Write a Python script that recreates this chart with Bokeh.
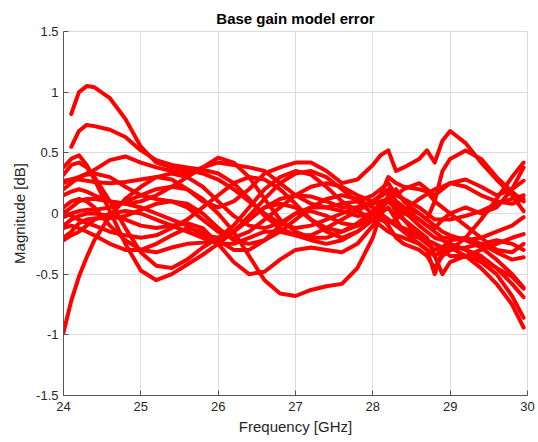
import numpy as np
from bokeh.plotting import figure
from bokeh.embed import file_html
from bokeh.resources import INLINE
from bokeh.models import FixedTicker, Range1d

freq = [24.0, 24.1, 24.2, 24.3, 24.4, 24.6, 24.8, 25.0, 25.2, 25.4, 25.6, 25.8,
        26.0, 26.2, 26.4, 26.6, 26.8, 27.0, 27.2, 27.4, 27.6, 27.8, 28.0, 28.1,
        28.2, 28.3, 28.4, 28.6, 28.7, 28.8, 28.9, 29.0, 29.2, 29.4, 29.6, 29.8, 29.95]

nan = float("nan")
err_01 = [nan, 0.82, 1.00, 1.05, 1.04, 0.95, 0.78, 0.55, 0.42, 0.38, 0.36, 0.33, 0.28, 0.20, 0.10, 0.00, -0.08, -0.12, -0.10, -0.05, 0.00, 0.05, 0.08, 0.10, 0.12, 0.08, 0.02, -0.10, -0.15, -0.20, -0.22, -0.25, -0.30, -0.35, -0.45, -0.58, -0.69]
err_02 = [nan, 0.55, 0.68, 0.73, 0.72, 0.69, 0.63, 0.52, 0.44, 0.40, 0.38, 0.36, 0.33, 0.25, 0.12, -0.02, -0.12, -0.18, -0.18, -0.12, -0.05, 0.02, 0.10, 0.14, 0.18, 0.15, 0.12, 0.05, 0.00, -0.05, -0.05, -0.05, -0.02, 0.02, 0.08, 0.12, 0.15]
err_03 = [-0.98, -0.72, -0.52, -0.36, -0.22, -0.02, 0.12, 0.22, 0.30, 0.33, 0.30, 0.22, 0.10, -0.02, -0.10, -0.12, -0.08, 0.00, 0.05, 0.05, 0.02, -0.02, 0.00, 0.05, 0.10, 0.05, -0.05, -0.20, -0.25, -0.30, -0.28, -0.22, -0.20, -0.25, -0.32, -0.38, -0.36]
err_04 = [0.38, 0.45, 0.48, 0.40, 0.28, 0.02, -0.25, -0.47, -0.55, -0.50, -0.42, -0.34, -0.25, -0.15, -0.02, 0.12, 0.25, 0.33, 0.35, 0.30, 0.20, 0.10, 0.00, -0.05, -0.08, -0.05, 0.02, 0.12, 0.16, 0.20, 0.22, 0.25, 0.22, 0.15, 0.10, 0.08, 0.12]
err_05 = [0.32, 0.40, 0.42, 0.38, 0.30, 0.10, -0.12, -0.32, -0.43, -0.45, -0.38, -0.28, -0.20, -0.10, 0.05, 0.20, 0.30, 0.35, 0.32, 0.22, 0.10, 0.02, -0.05, -0.10, -0.15, -0.18, -0.20, -0.25, -0.30, -0.35, -0.30, -0.28, -0.35, -0.45, -0.58, -0.75, -0.94]
err_06 = [0.25, 0.28, 0.30, 0.33, 0.36, 0.44, 0.47, 0.42, 0.38, 0.35, 0.33, 0.38, 0.46, 0.42, 0.30, 0.12, -0.05, -0.15, -0.20, -0.20, -0.15, -0.08, 0.02, 0.08, 0.12, 0.10, 0.05, -0.05, -0.10, -0.15, -0.20, -0.20, -0.22, -0.28, -0.38, -0.50, -0.61]
err_07 = [0.27, 0.28, 0.28, 0.27, 0.26, 0.25, 0.26, 0.28, 0.30, 0.28, 0.20, 0.10, 0.05, 0.10, 0.20, 0.33, 0.38, 0.42, 0.42, 0.35, 0.25, 0.28, 0.40, 0.48, 0.52, 0.35, 0.38, 0.45, 0.52, 0.42, 0.60, 0.68, 0.58, 0.42, 0.28, 0.15, 0.02]
err_08 = [0.05, 0.10, 0.12, 0.10, 0.05, -0.10, -0.22, -0.30, -0.32, -0.28, -0.25, -0.24, -0.22, -0.15, -0.05, 0.05, 0.12, 0.15, 0.14, 0.10, 0.05, 0.05, 0.10, 0.15, 0.20, 0.10, 0.05, 0.00, -0.05, 0.10, 0.35, 0.45, 0.52, 0.45, 0.30, 0.18, 0.10]
err_09 = [-0.03, 0.00, 0.02, 0.03, 0.03, 0.05, 0.10, 0.15, 0.20, 0.22, 0.20, 0.12, 0.00, -0.15, -0.35, -0.55, -0.66, -0.68, -0.63, -0.60, -0.58, -0.45, -0.20, 0.00, 0.15, 0.00, -0.05, -0.15, -0.20, -0.35, -0.50, -0.40, -0.35, -0.40, -0.50, -0.68, -0.86]
err_10 = [-0.20, -0.15, -0.08, -0.05, -0.04, -0.04, -0.02, 0.03, 0.08, 0.10, 0.08, 0.00, -0.12, -0.22, -0.25, -0.22, -0.15, -0.05, 0.05, 0.12, 0.15, 0.12, 0.05, 0.00, -0.05, -0.10, -0.15, -0.20, -0.22, -0.25, -0.28, -0.30, -0.20, -0.05, 0.12, 0.30, 0.42]
err_11 = [0.02, -0.02, -0.05, -0.08, -0.10, -0.15, -0.18, -0.20, -0.18, -0.12, -0.05, 0.05, 0.15, 0.25, 0.30, 0.28, 0.20, 0.08, -0.05, -0.12, -0.15, -0.10, 0.00, 0.05, 0.10, 0.05, 0.00, -0.05, -0.10, -0.12, -0.05, 0.00, 0.05, 0.00, 0.05, 0.20, 0.38]
err_12 = [0.15, 0.18, 0.20, 0.18, 0.15, 0.10, 0.08, 0.10, 0.15, 0.22, 0.30, 0.38, 0.42, 0.40, 0.38, 0.35, 0.25, 0.15, 0.08, 0.05, 0.08, 0.10, 0.15, 0.20, 0.25, 0.15, 0.20, 0.25, 0.20, 0.15, 0.20, 0.25, 0.28, 0.22, 0.15, 0.20, 0.27]
err_13 = [-0.10, -0.05, -0.02, 0.00, 0.00, -0.02, -0.05, -0.10, -0.12, -0.10, -0.08, -0.12, -0.25, -0.40, -0.50, -0.48, -0.38, -0.30, -0.28, -0.30, -0.32, -0.25, -0.10, 0.00, 0.05, -0.05, -0.15, -0.25, -0.30, -0.50, -0.30, -0.25, -0.30, -0.38, -0.45, -0.52, -0.62]
err_14 = [-0.12, -0.10, -0.12, -0.15, -0.18, -0.25, -0.30, -0.30, -0.25, -0.18, -0.12, -0.15, -0.22, -0.30, -0.30, -0.22, -0.10, 0.00, 0.02, -0.02, -0.08, -0.10, -0.05, 0.05, 0.12, 0.20, 0.10, 0.00, -0.05, -0.10, -0.15, -0.18, -0.22, -0.20, -0.15, -0.10, -0.03]
err_15 = [0.00, 0.05, 0.10, 0.12, 0.12, 0.10, 0.08, 0.05, 0.00, -0.05, -0.10, -0.18, -0.20, -0.15, -0.05, 0.05, 0.08, 0.05, -0.05, -0.15, -0.20, -0.15, -0.05, 0.00, -0.05, -0.10, -0.12, -0.18, -0.22, -0.25, -0.30, -0.35, -0.35, -0.30, -0.25, -0.20, -0.17]
err_16 = [0.20, 0.25, 0.30, 0.32, 0.33, 0.30, 0.22, 0.15, 0.12, 0.10, 0.05, -0.05, -0.15, -0.20, -0.15, -0.05, 0.05, 0.15, 0.22, 0.25, 0.22, 0.15, 0.10, 0.15, 0.30, 0.25, 0.22, 0.20, 0.18, 0.10, 0.05, 0.00, -0.10, -0.20, -0.30, -0.32, -0.25]
err_17 = [-0.22, -0.18, -0.15, -0.10, -0.05, 0.00, 0.02, 0.00, -0.05, -0.10, -0.15, -0.20, -0.25, -0.25, -0.20, -0.15, -0.15, -0.18, -0.22, -0.25, -0.22, -0.15, -0.05, -0.02, -0.10, -0.20, -0.25, -0.30, -0.35, -0.45, -0.35, -0.30, -0.28, -0.25, -0.22, -0.25, -0.30]

curves = [err_01, err_02, err_03, err_04, err_05, err_06, err_07, err_08, err_09,
          err_10, err_11, err_12, err_13, err_14, err_15, err_16, err_17]

x_ticks = [24, 25, 26, 27, 28, 29, 30]
y_ticks = [-1.5, -1, -0.5, 0, 0.5, 1, 1.5]
y_tick_labels = {-1.5: "-1.5", -1: "-1", -0.5: "-0.5", 0: "0", 0.5: "0.5", 1: "1", 1.5: "1.5"}

p = figure(width=538, height=442, output_backend="svg", toolbar_location=None,
           x_range=Range1d(24, 30), y_range=Range1d(-1.5, 1.5),
           min_border_left=63, min_border_right=11, min_border_top=31, min_border_bottom=47,
           title="Base gain model error")

for c in curves:
    p.line(freq, c, line_color="#ff0000", line_width=4, line_join="round", line_cap="round")

font = "Liberation Sans"
p.title.align = "center"
p.title.text_font = font
p.title.text_font_size = "15px"
p.title.text_font_style = "bold"
p.title.text_color = "#000000"

p.outline_line_color = "#dcdcdc"
for ax in (p.xaxis[0], p.yaxis[0]):
    ax.axis_line_color = "#555555"
    ax.major_tick_line_color = "#555555"
    ax.major_tick_in = 5
    ax.major_tick_out = 0
    ax.minor_tick_line_color = None
    ax.major_label_text_font = font
    ax.major_label_text_font_size = "13px"
    ax.major_label_text_color = "#262626"
    ax.axis_label_text_font = font
    ax.axis_label_text_font_size = "15px"
    ax.axis_label_text_font_style = "normal"
    ax.axis_label_text_color = "#262626"

p.xaxis.ticker = FixedTicker(ticks=x_ticks)
p.yaxis.ticker = FixedTicker(ticks=y_ticks)
p.yaxis.major_label_overrides = y_tick_labels
p.xaxis.axis_label = "Frequency [GHz]"
p.yaxis.axis_label = "Magnitude [dB]"
p.xaxis.major_label_standoff = 6
p.yaxis.major_label_standoff = 5
p.xaxis.axis_label_standoff = 4
p.xgrid.ticker = FixedTicker(ticks=x_ticks)
p.ygrid.ticker = FixedTicker(ticks=y_ticks)
p.grid.grid_line_color = "#dcdcdc"

open("out.html", "w").write(file_html(p, INLINE))
